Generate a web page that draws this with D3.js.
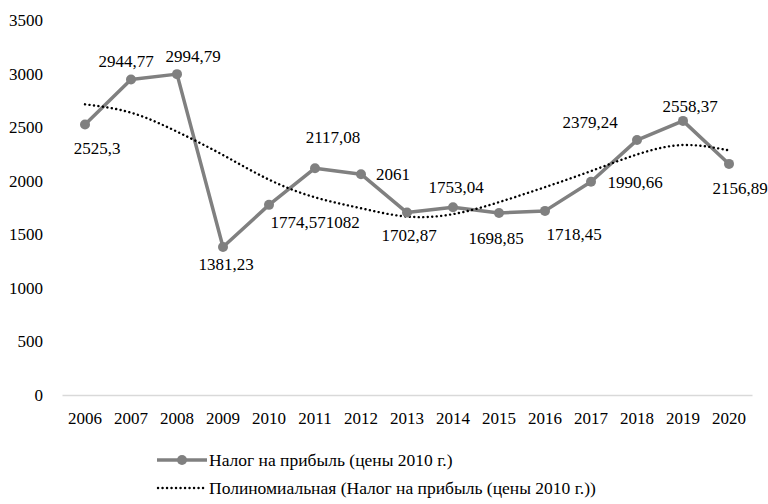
<!DOCTYPE html>
<html><head><meta charset="utf-8">
<script src="https://cdn.jsdelivr.net/npm/d3@7"></script>
<style>
body{margin:0;background:#fff;}
svg text{fill:#000;}
</style></head>
<body><svg id="c" width="768" height="504"></svg>
<script>
const years = ["2006","2007","2008","2009","2010","2011","2012","2013","2014","2015","2016","2017","2018","2019","2020"];
const values = [2525.3,2944.77,2994.79,1381.23,1774.571082,2117.08,2061,1702.87,1753.04,1698.85,1718.45,1990.66,2379.24,2558.37,2156.89];
const labels = ["2525,3","2944,77","2994,79","1381,23","1774,571082","2117,08","2061","1702,87","1753,04","1698,85","1718,45","1990,66","2379,24","2558,37","2156,89"];
const trend = [2713,2635,2458,2240,2010,1845,1743,1665,1688,1800,1940,2090,2245,2333,2283];
const yTicks = [0,500,1000,1500,2000,2500,3000,3500];
const seriesName = "Налог на прибыль (цены 2010 г.)";
const trendName = "Полиномиальная (Налог на прибыль (цены 2010 г.))";
// label offsets [dx, dy] relative to point
const labelOffsets = [[12,30],[-5,-12],[16,-12],[3,23],[46,23],[18,-25],[32,6],[2,28],[3,-14],[-3,31],[29,29],[44,6],[-47,-12],[7,-9],[11,30]];

const FONT = "'Liberation Serif','Times New Roman','DejaVu Serif','Noto Serif',serif";
const svg = d3.select("#c");
const x = d3.scaleBand().domain(years).range([62,752]);
const y = d3.scaleLinear().domain([0,3500]).range([395,20]);
const cx = d => x(d) + x.bandwidth()/2;
const FS = 17;

// y axis labels
const ya = svg.append("g").attr("transform","translate(43,0)")
  .call(d3.axisLeft(y).tickValues(yTicks).tickSize(0).tickPadding(0).tickFormat(d3.format("d")));
ya.attr("font-family",FONT).attr("font-size",FS);
ya.select(".domain").remove();

// x axis
const xa = svg.append("g").attr("transform","translate(0,395)")
  .call(d3.axisBottom(x).tickSize(0).tickPadding(17));
xa.attr("font-family",FONT).attr("font-size",FS);
xa.select(".domain").attr("stroke","#d9d9d9").attr("stroke-width",1.5);

const gray = "#808080";
// series line
svg.append("path")
  .datum(values)
  .attr("fill","none").attr("stroke",gray).attr("stroke-width",3.5).attr("stroke-linejoin","round")
  .attr("d", d3.line().x((d,i)=>cx(years[i])).y(d=>y(d)));
// trend
svg.append("path")
  .datum(trend)
  .attr("fill","none").attr("stroke","#000").attr("stroke-width",2.4)
  .attr("stroke-dasharray","0.1 4.4").attr("stroke-linecap","round")
  .attr("d", d3.line().x((d,i)=>cx(years[i])).y(d=>y(d)).curve(d3.curveNatural));
// markers
svg.append("g").selectAll("circle").data(values).join("circle")
  .attr("cx",(d,i)=>cx(years[i])).attr("cy",d=>y(d)).attr("r",5).attr("fill",gray);
// data labels
svg.append("g").attr("font-family",FONT).attr("font-size",FS)
  .selectAll("text").data(values).join("text")
  .attr("x",(d,i)=>cx(years[i])+labelOffsets[i][0])
  .attr("y",(d,i)=>y(d)+labelOffsets[i][1])
  .attr("text-anchor","middle")
  .text((d,i)=>labels[i]);

// legend
const lg = svg.append("g").attr("font-family",FONT).attr("font-size",17.5);
lg.append("line").attr("x1",157).attr("x2",207).attr("y1",460).attr("y2",460)
  .attr("stroke",gray).attr("stroke-width",3.5);
lg.append("circle").attr("cx",182).attr("cy",460).attr("r",5).attr("fill",gray);
lg.append("text").attr("x",209).attr("y",466).text(seriesName);
lg.append("line").attr("x1",158).attr("x2",207).attr("y1",488).attr("y2",488)
  .attr("stroke","#000").attr("stroke-width",2.4).attr("stroke-dasharray","0.1 4.4").attr("stroke-linecap","round");
lg.append("text").attr("x",209).attr("y",494).text(trendName);
</script></body></html>
